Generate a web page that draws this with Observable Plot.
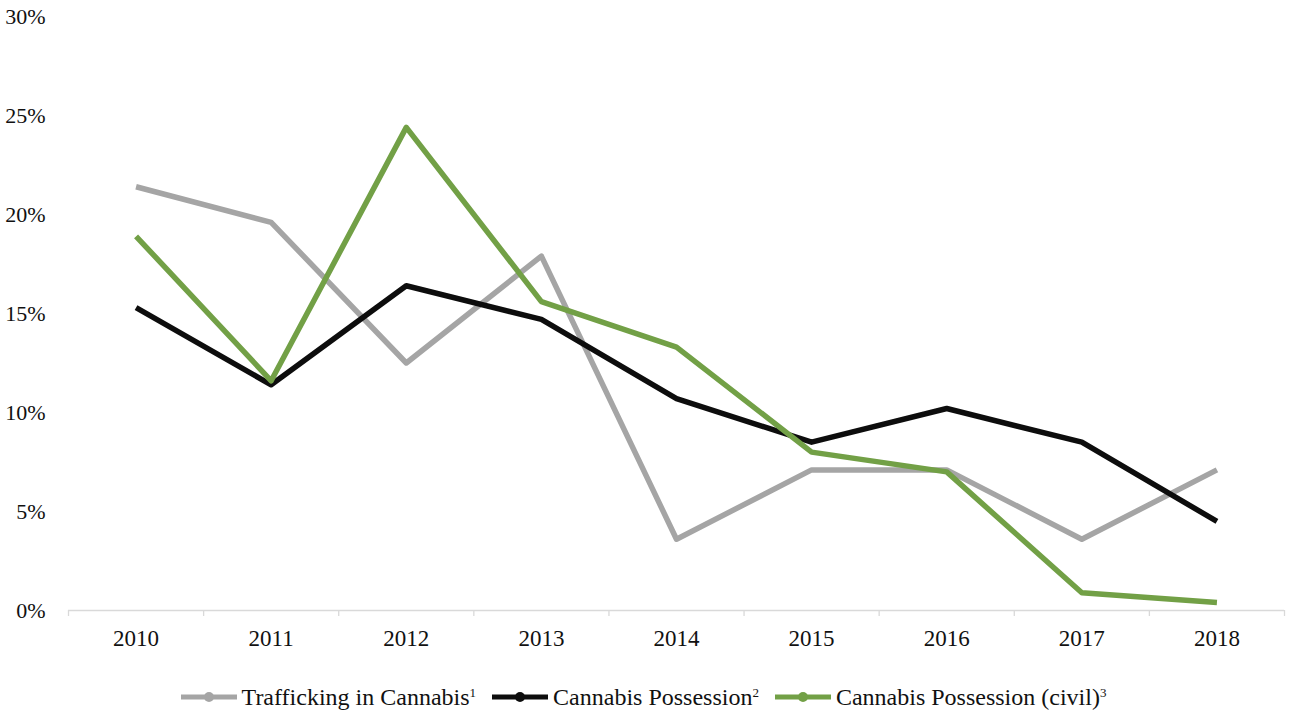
<!DOCTYPE html>
<html>
<head>
<meta charset="utf-8">
<script src="https://cdn.jsdelivr.net/npm/d3@7"></script>
<script src="https://cdn.jsdelivr.net/npm/@observablehq/plot@0.6"></script>
<style>
  html, body { margin: 0; padding: 0; background: #fff; }
  body { width: 1289px; height: 721px; overflow: hidden; font-family: "Liberation Serif", "Times New Roman", serif; }
  #legend { display: flex; justify-content: center; align-items: center; margin-top: 23px; margin-left: -2px; font-size: 24px; line-height: 28px; color: #111; font-family: "Liberation Serif", "Times New Roman", serif; }
  .item { display: flex; align-items: center; margin: 0 8px; }
  .item svg { margin-right: 5px; }
  sup { font-size: 13px; vertical-align: 8px; line-height: 0; }
</style>
</head>
<body>
<div id="chart"></div>
<div id="legend"></div>
<script>
const years = ["2010","2011","2012","2013","2014","2015","2016","2017","2018"];
const seriesNames = ["Trafficking in Cannabis", "Cannabis Possession", "Cannabis Possession (civil)"];
const superscripts = ["1", "2", "3"];
const colors = ["#a5a5a5", "#0d0d0d", "#72a046"];
const trafficking = [21.4, 19.6, 12.5, 17.9, 3.6, 7.1, 7.1, 3.6, 7.1];
const possession = [15.3, 11.4, 16.4, 14.7, 10.7, 8.5, 10.2, 8.5, 4.5];
const possessionCivil = [18.9, 11.6, 24.4, 15.6, 13.3, 8.0, 7.0, 0.9, 0.4];
const yTicks = [0, 5, 10, 15, 20, 25, 30];

const seriesValues = [trafficking, possession, possessionCivil];
const data = [];
seriesValues.forEach((vals, s) => vals.forEach((v, i) => data.push({year: +years[i], series: seriesNames[s], value: v})));
const yearNums = years.map(Number);
const boundaries = [yearNums[0] - 0.5, ...yearNums.map(y => y + 0.5)];
const serif = "Liberation Serif";

const chart = Plot.plot({
  width: 1289,
  height: 660,
  marginLeft: 68,
  marginRight: 5,
  marginTop: 16,
  marginBottom: 50,
  style: {fontFamily: "'Liberation Serif', serif", fontSize: "22px", color: "#111", background: "#fff"},
  x: {type: "linear", domain: [boundaries[0], boundaries[boundaries.length - 1]]},
  y: {domain: [0, 30]},
  color: {domain: seriesNames, range: colors},
  marks: [
    Plot.axisY({ticks: yTicks, tickSize: 0, tickPadding: 23, tickFormat: d => d + "%", label: null, fontSize: 22, fontFamily: serif}),
    Plot.axisX({ticks: yearNums, tickSize: 0, tickPadding: 19, tickFormat: d => String(d), label: null, fontSize: 23, fontFamily: serif}),
    Plot.axisX({ticks: boundaries, tickSize: 6, tickFormat: () => "", label: null, stroke: "#d9d9d9", strokeWidth: 1.3, strokeOpacity: 1}),
    Plot.ruleY([0], {stroke: "#d9d9d9", strokeWidth: 1.3}),
    Plot.line(data, {x: "year", y: "value", z: "series", stroke: "series", strokeWidth: 5.5, strokeLinejoin: "round", strokeLinecap: "butt"})
  ]
});
document.getElementById("chart").appendChild(chart);

const legend = document.getElementById("legend");
seriesNames.forEach((name, i) => {
  const item = document.createElement("div");
  item.className = "item";
  item.innerHTML = `<svg width="56" height="12"><line x1="0" y1="6" x2="56" y2="6" stroke="${colors[i]}" stroke-width="5"/><circle cx="28" cy="6" r="5" fill="${colors[i]}"/></svg><span>${name}<sup>${superscripts[i]}</sup></span>`;
  legend.appendChild(item);
});
</script>
</body>
</html>
